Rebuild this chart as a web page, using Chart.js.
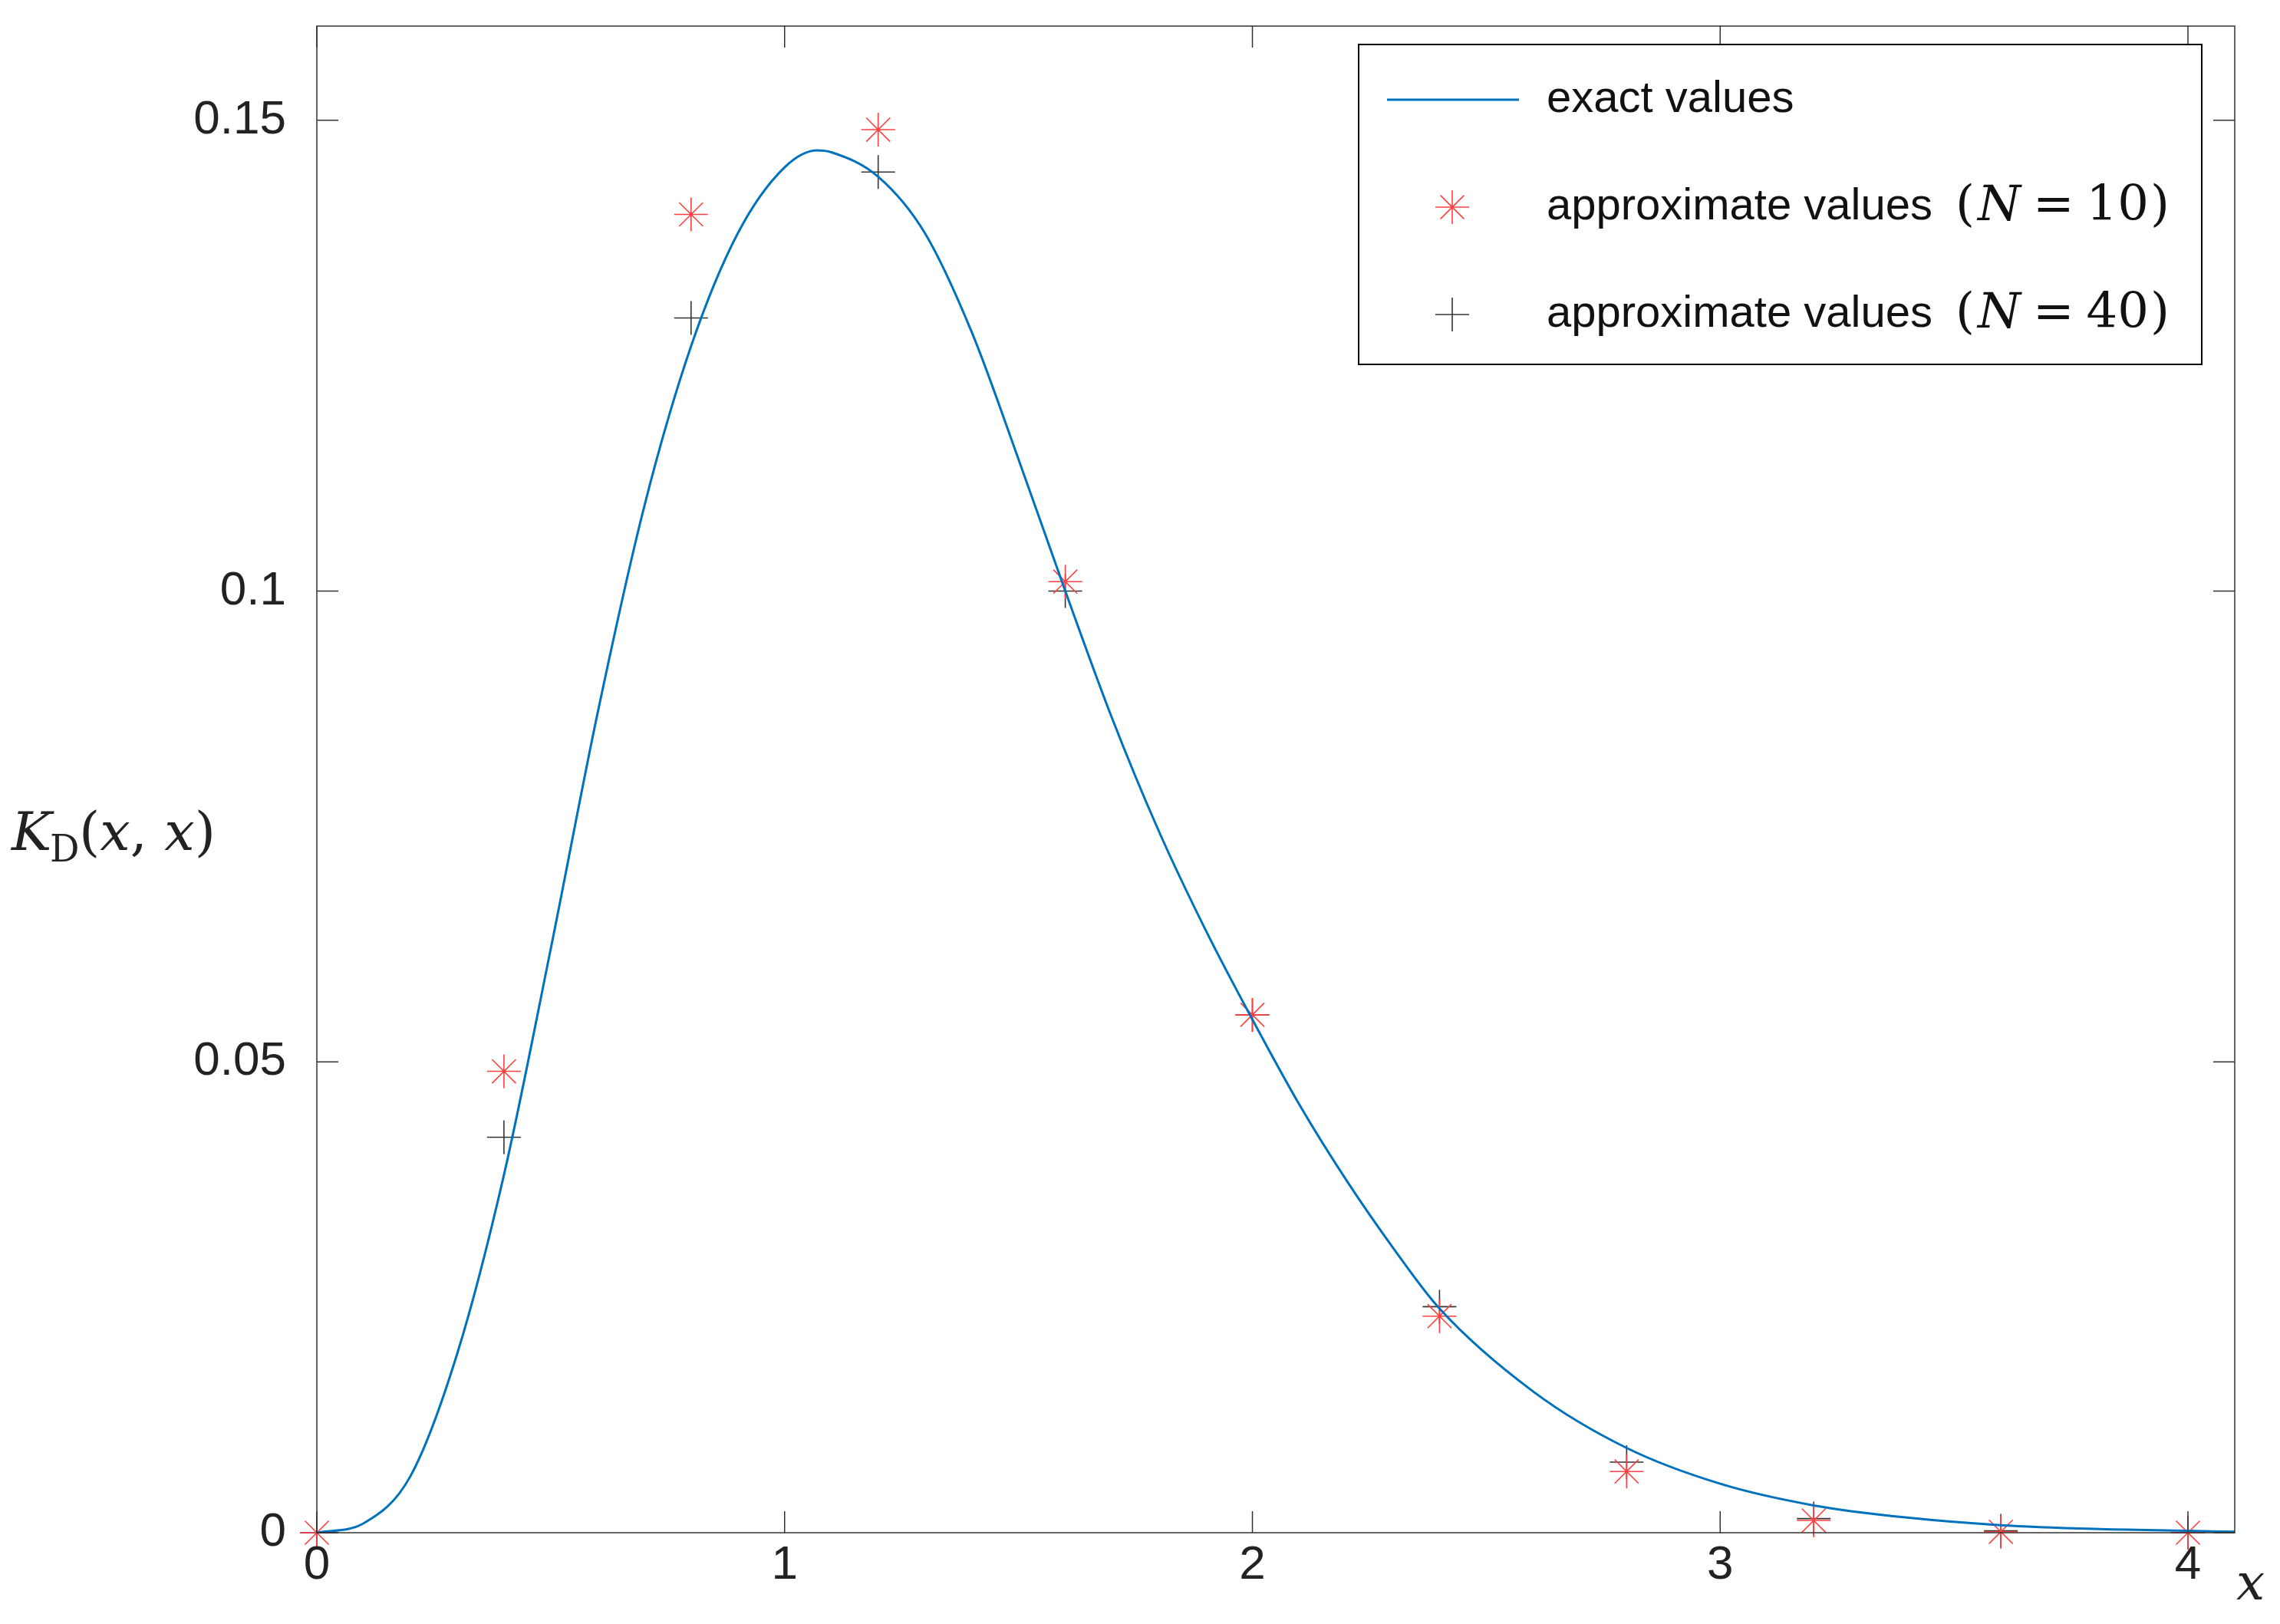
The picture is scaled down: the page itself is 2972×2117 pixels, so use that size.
<!DOCTYPE html>
<html><head><meta charset="utf-8">
<script src="https://cdn.jsdelivr.net/npm/chart.js@4"></script>
<style>html,body{margin:0;padding:0;background:#fff}#w{width:2972px;height:2117px}</style>
</head><body><div id="w"><canvas id="c"></canvas></div>
<script>
const curveX = [0,0.1,0.2,0.3,0.4,0.5,0.6,0.7,0.8,0.9,1.0,1.07,1.1,1.2,1.3,1.4,1.5,1.6,1.7,1.8,1.9,2.0,2.1,2.2,2.3,2.4,2.6,2.8,3.0,3.2,3.4,3.6,3.8,4.0,4.1];
const curveY = [0,0.001,0.006,0.019,0.038,0.062,0.087,0.109,0.126,0.138,0.145,0.1468,0.1466,0.1440,0.1380,0.1275,0.1140,0.1000,0.0865,0.0745,0.0640,0.0545,0.0455,0.0375,0.0303,0.0238,0.0150,0.0090,0.0052,0.0029,0.0016,0.0008,0.0004,0.0002,0.0001];
const ptsX = [0,0.4,0.8,1.2,1.6,2.0,2.4,2.8,3.2,3.6,4.0];
const n10Y = [0,0.049,0.140,0.149,0.101,0.055,0.023,0.0065,0.0013,0.0001,0];
const n40Y = [0,0.042,0.129,0.1445,0.100,0.055,0.024,0.0075,0.0015,0.0002,0];
const xTicks = [0,1,2,3,4];
const yTicks = [0,0.05,0.1,0.15];
const yTickLabels = ['0','0.05','0.1','0.15'];

const zip=(a,b)=>a.map((v,i)=>({x:v,y:b[i]}));
const FS=62;
const frame={id:'frame',afterDraw(ch){
  const c=ch.ctx,a=ch.chartArea,xs=ch.scales.x,ys=ch.scales.y;
  c.save();c.strokeStyle='#333';c.lineWidth=1.5;
  c.strokeRect(a.left,a.top,a.right-a.left,a.bottom-a.top);
  c.fillStyle='#222';c.font=FS+'px "Liberation Sans", Arial';
  const T=28;
  xTicks.forEach(v=>{const p=xs.getPixelForValue(v);
    c.beginPath();c.moveTo(p,a.bottom);c.lineTo(p,a.bottom-T);c.moveTo(p,a.top);c.lineTo(p,a.top+T);c.stroke();
    c.textAlign='center';c.textBaseline='top';c.fillText(String(v),p,a.bottom+12);});
  yTicks.forEach((v,i)=>{const p=ys.getPixelForValue(v);
    c.beginPath();c.moveTo(a.left,p);c.lineTo(a.left+T,p);c.moveTo(a.right,p);c.lineTo(a.right-T,p);c.stroke();
    c.textAlign='right';c.textBaseline='middle';c.fillText(yTickLabels[i],a.left-40,p);});
  c.font='italic 66px "DejaVu Serif", serif';c.textAlign='left';c.textBaseline='alphabetic';
  c.fillText('x',2915,2085);
  c.font='italic 70px "DejaVu Serif", serif';c.fillText('K',15,1108);
  c.font='48px "DejaVu Serif", serif';c.fillText('D',65,1123);
  c.font='70px "DejaVu Serif", serif';let t='(';let xx=103;c.fillText(t,xx,1108);xx+=c.measureText(t).width;
  c.font='italic 70px "DejaVu Serif", serif';c.fillText('x',xx,1108);xx+=c.measureText('x').width;
  c.font='70px "DejaVu Serif", serif';c.fillText(', ',xx,1108);xx+=c.measureText(', ').width;
  c.font='italic 70px "DejaVu Serif", serif';c.fillText('x',xx,1108);xx+=c.measureText('x').width;
  c.font='70px "DejaVu Serif", serif';c.fillText(')',xx,1108);
  const L=1771,Tp=58,R=2870,B=475;
  c.fillStyle='#fff';c.fillRect(L,Tp,R-L,B-Tp);c.strokeStyle='#000';c.lineWidth=2;c.strokeRect(L,Tp,R-L,B-Tp);
  const rows=[130,270,410];
  c.strokeStyle='#0072BD';c.lineWidth=3;c.beginPath();c.moveTo(1808,rows[0]);c.lineTo(1980,rows[0]);c.stroke();
  const mx=1893,r=22;
  c.strokeStyle='#ff4040';c.lineWidth=1.6;c.beginPath();
  c.moveTo(mx-r,rows[1]);c.lineTo(mx+r,rows[1]);c.moveTo(mx,rows[1]-r);c.lineTo(mx,rows[1]+r);
  c.moveTo(mx-r*.7,rows[1]-r*.7);c.lineTo(mx+r*.7,rows[1]+r*.7);c.moveTo(mx-r*.7,rows[1]+r*.7);c.lineTo(mx+r*.7,rows[1]-r*.7);c.stroke();
  c.strokeStyle='#333';c.beginPath();c.moveTo(mx-r,rows[2]);c.lineTo(mx+r,rows[2]);c.moveTo(mx,rows[2]-r);c.lineTo(mx,rows[2]+r);c.stroke();
  c.fillStyle='#111';c.textBaseline='middle';c.textAlign='left';
  c.font='58px "Liberation Sans", Arial';c.fillText('exact values',2016,rows[0]);
  ['10','40'].forEach((n,i)=>{const y=rows[i+1];let x=2016;
    c.font='58px "Liberation Sans", Arial';c.fillText('approximate values',x,y);x+=c.measureText('approximate values').width+30;
    c.font='64px "DejaVu Serif", serif';c.fillText('(',x,y);x+=c.measureText('(').width+4;
    c.font='italic 64px "DejaVu Serif", serif';c.fillText('N',x,y);x+=c.measureText('N').width+16;
    c.font='64px "DejaVu Serif", serif';c.fillText('=',x,y);x+=c.measureText('=').width+16;
    c.fillText(n,x,y);x+=c.measureText(n).width+2;c.fillText(')',x,y);});
  c.restore();}};
new Chart(document.getElementById('c'),{
  type:'scatter',
  data:{datasets:[
    {data:zip(curveX,curveY),showLine:true,cubicInterpolationMode:'monotone',borderColor:'#0072BD',borderWidth:3,pointRadius:0,fill:false},
    {data:zip(ptsX,n10Y),pointStyle:'star',pointRadius:22,borderColor:'#ff4040',borderWidth:1.6,backgroundColor:'transparent'},
    {data:zip(ptsX,n40Y),pointStyle:'cross',pointRadius:22,borderColor:'#333',borderWidth:1.6,backgroundColor:'transparent'}
  ]},
  options:{responsive:true,maintainAspectRatio:false,animation:false,clip:false,
    layout:{padding:{top:34,right:59,left:0,bottom:0}},
    plugins:{legend:{display:false},tooltip:{enabled:false}},
    scales:{
      x:{type:'linear',min:0,max:4.1,grid:{display:false},border:{display:false},ticks:{display:false},afterFit(s){s.height=119;}},
      y:{type:'linear',min:0,max:0.16,grid:{display:false},border:{display:false},ticks:{display:false},afterFit(s){s.width=413;}}
    }},
  plugins:[frame]
});
</script></body></html>
